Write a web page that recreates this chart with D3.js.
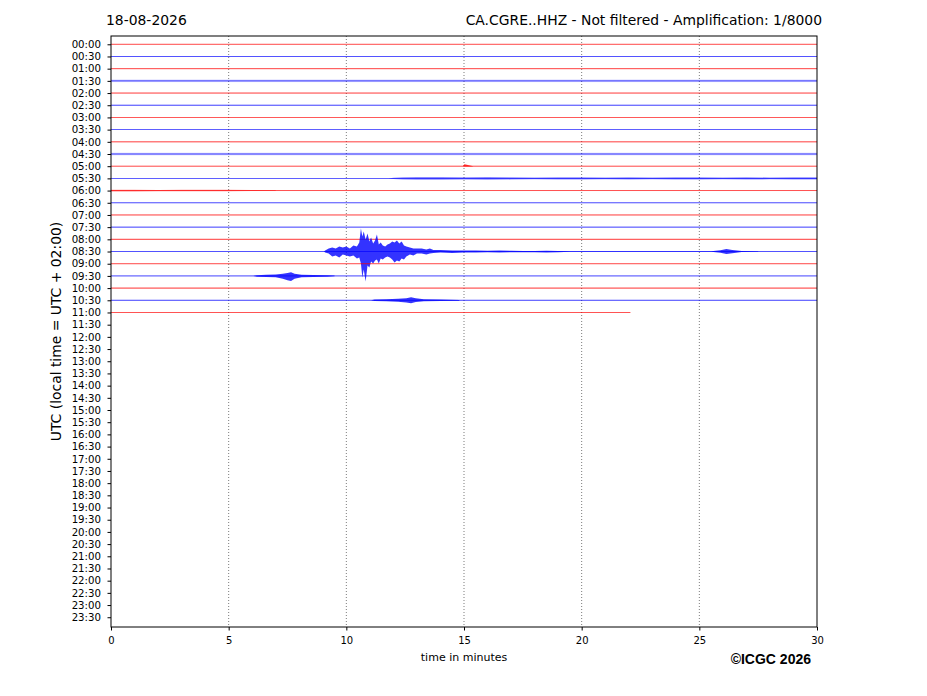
<!DOCTYPE html>
<html>
<head>
<meta charset="utf-8">
<script src="https://cdn.jsdelivr.net/npm/d3@7"></script>
<style>
  body { margin: 0; background: #fff; }
  text { font-family: "DejaVu Sans", sans-serif; }
</style>
</head>
<body>
<script>
// --- data ---
var dateLabel = "18-08-2026";
var stationTitle = "CA.CGRE..HHZ - Not filtered - Amplification: 1/8000";
var rowLabels = [];
for (var h = 0; h < 24; h++) {
  rowLabels.push(("0" + h).slice(-2) + ":00", ("0" + h).slice(-2) + ":30");
}
var xTicks = [0, 5, 10, 15, 20, 25, 30];
var gridMinutes = [5, 10, 15, 20, 25];

// rows that hold data (00:00 .. 11:00) and how far each one runs (minutes)
var traceRows = d3.range(0, 23);
var traceEnd = traceRows.map(function(r) { return r === 22 ? 22.07 : 30; });
// background noise half-width per row, amplitude units (10 = one row)
var rowNoise = [0.3, 0.3, 0.4, 1.0, 0.4, 0.4, 0.3, 0.3, 0.4, 1.0, 0.3, 0.3,
                0.4, 0.3, 0.4, 0.4, 0.5, 0.3, 0.3, 0.3, 0.5, 0.4, 0.3];

// events: [minute, amplitude up, amplitude down] (10 = one row)
var events = {
  10: [[14.95, 0, 0], [15.02, 1.6, 0.2], [15.12, 1.2, 0.2], [15.3, 0.3, 0.2], [15.4, 0, 0]],
  11: [[11.8, 0, 0], [12.0, 0.6, 0.6], [12.4, 0.9, 0.9], [13.0, 1.2, 1.2], [14.0, 1.1, 1.1],
       [15.0, 1.0, 1.0], [16.0, 1.2, 1.2], [17.0, 1.0, 1.0], [18.0, 0.8, 0.8], [19.0, 1.0, 1.0],
       [20.0, 1.0, 1.0], [21.0, 0.8, 0.8], [22.0, 0.9, 0.9], [23.0, 0.8, 0.8], [24.0, 0.9, 0.9],
       [25.0, 0.9, 0.9], [26.0, 0.8, 0.8], [27.0, 0.9, 0.9], [28.0, 0.8, 0.8], [29.0, 0.9, 0.9],
       [30.0, 1.0, 1.0]],
  12: [[0, 0.7, 0.7], [1.0, 0.7, 0.7], [2.0, 0.5, 0.5], [3.0, 0.6, 0.6], [4.0, 0.6, 0.6],
       [5.0, 0.6, 0.6], [6.0, 0.4, 0.4], [7.0, 0.3, 0.3]],
  17: [[9.05, 0, 0], [9.1, 0.8, 0.8], [9.25, 2.4, 1.6], [9.4, 3.3, 4.1], [9.55, 2.4, 3.3],
       [9.7, 4.1, 4.9], [9.85, 3.3, 2.4], [10.0, 4.1, 3.3], [10.15, 2.4, 4.1], [10.3, 4.9, 3.3],
       [10.45, 4.1, 5.7], [10.55, 7.4, 4.9], [10.62, 18.9, 9.8], [10.68, 12.3, 21.3],
       [10.74, 16.4, 14.8], [10.82, 9.8, 24.6], [10.9, 14.8, 11.5], [10.98, 8.2, 13.1],
       [11.05, 11.5, 8.2], [11.14, 6.6, 9.8], [11.22, 9.0, 7.4], [11.3, 13.9, 6.6],
       [11.38, 5.7, 9.8], [11.46, 7.4, 5.7], [11.55, 4.9, 6.6], [11.65, 4.1, 4.9],
       [11.75, 5.7, 4.1], [11.85, 6.6, 4.9], [11.95, 8.2, 6.6], [12.05, 7.4, 9.0],
       [12.15, 9.0, 7.4], [12.25, 6.6, 8.2], [12.35, 8.2, 5.7], [12.45, 4.9, 6.6],
       [12.55, 4.1, 4.1], [12.7, 3.3, 2.4], [12.85, 2.4, 3.3], [13.0, 2.4, 1.6],
       [13.2, 2.4, 1.6], [13.4, 1.6, 2.4], [13.55, 2.4, 1.6], [13.7, 1.2, 1.2],
       [14.0, 1.2, 0.8], [14.5, 0.8, 1.2], [15.0, 0.8, 0.8], [15.5, 0.8, 0.8],
       [16.0, 0.6, 0.6], [16.5, 0.8, 0.8], [17.0, 0.6, 0.6], [17.5, 0.5, 0.5],
       [18.0, 0.5, 0.5], [18.5, 0.7, 0.7], [19.0, 0.5, 0.5], [19.5, 0.2, 0.2],
       [25.5, 0.2, 0.2], [25.9, 1.0, 1.0], [26.15, 2.0, 2.0], [26.4, 1.2, 1.4],
       [26.8, 0.4, 0.4], [27.5, 0.2, 0.2]],
  19: [[6.05, 0, 0], [6.2, 0.6, 0.6], [6.6, 0.9, 0.9], [7.0, 1.2, 1.2], [7.3, 1.8, 2.4],
       [7.5, 2.4, 3.6], [7.65, 3.0, 4.1], [7.8, 1.8, 2.4], [8.1, 1.0, 1.2], [8.6, 0.8, 0.8],
       [9.2, 0.6, 0.6], [9.5, 0.3, 0.3]],
  21: [[11.05, 0, 0], [11.2, 0.6, 0.6], [11.7, 0.8, 0.8], [12.2, 1.2, 1.2], [12.55, 1.6, 1.8],
       [12.75, 2.4, 2.4], [12.95, 1.6, 1.4], [13.3, 0.8, 0.8], [14.0, 0.6, 0.6], [14.8, 0.3, 0.3]]
};

// --- layout ---
var W = 927, H = 696;
var mLeft = 111, mRight = 817, mTop = 36, mBottom = 627;
var svg = d3.select("body").append("svg").attr("width", W).attr("height", H);

var x = d3.scaleLinear().domain([0, 30]).range([mLeft, mRight]);
var y = d3.scaleLinear().domain([-0.68, 47.8]).range([mTop, mBottom]);
var rowStep = y(1) - y(0);
var amp = d3.scaleLinear().domain([0, 10]).range([0, rowStep]);
var colorOf = function(r) { return r % 2 === 0 ? "#ff0000" : "#0000ff"; };
// low-amplitude wave rows look like a faint thin wiggle
var eventOpacity = function(r) { return (r === 11 || r === 12) ? 0.45 : 0.8; };

// dotted vertical grid
svg.append("g").selectAll("line").data(gridMinutes).enter().append("line")
  .attr("x1", function(d) { return x(d); }).attr("x2", function(d) { return x(d); })
  .attr("y1", mTop).attr("y2", mBottom)
  .attr("stroke", "#444").attr("stroke-width", 0.7).attr("stroke-dasharray", "1,2");

var traceG = svg.append("g");
traceRows.forEach(function(r) {
  var c = colorOf(r), y0 = y(r), end = traceEnd[r];
  // noise band
  traceG.append("rect")
    .attr("x", x(0)).attr("width", x(end) - x(0))
    .attr("y", y0 - amp(rowNoise[r])).attr("height", 2 * amp(rowNoise[r]))
    .attr("fill", c).attr("opacity", 0.22);
  traceG.append("line")
    .attr("x1", x(0)).attr("x2", x(end)).attr("y1", y0).attr("y2", y0)
    .attr("stroke", c).attr("stroke-width", 0.7).attr("opacity", 0.9);
  if (events[r]) {
    var area = d3.area()
      .x(function(d) { return x(d[0]); })
      .y0(function(d) { return y0 - amp(d[1]); })
      .y1(function(d) { return y0 + amp(d[2]); })
      .curve(d3.curveLinear);
    traceG.append("path").datum(events[r])
      .attr("d", area)
      .attr("fill", c).attr("opacity", eventOpacity(r));
  }
});

// frame
svg.append("rect").attr("x", mLeft).attr("y", mTop)
  .attr("width", mRight - mLeft).attr("height", mBottom - mTop)
  .attr("fill", "none").attr("stroke", "#000").attr("stroke-width", 1);

// y axis
var yAxis = d3.axisLeft(y).tickValues(d3.range(0, 48))
  .tickFormat(function(i) { return rowLabels[i]; }).tickSize(3.5).tickPadding(6.5);
var yg = svg.append("g").attr("transform", "translate(" + mLeft + ",0)").call(yAxis);
yg.select(".domain").remove();
yg.selectAll("text").attr("font-size", 10.2).attr("fill", "#000")
  .style("font-family", "DejaVu Sans");

// x axis
var xAxis = d3.axisBottom(x).tickValues(xTicks).tickSize(3.5).tickPadding(6);
var xg = svg.append("g").attr("transform", "translate(0," + mBottom + ")").call(xAxis);
xg.select(".domain").remove();
xg.selectAll("text").attr("font-size", 10).attr("fill", "#000")
  .style("font-family", "DejaVu Sans");

// titles / labels
svg.append("text").attr("x", 106).attr("y", 25).attr("font-size", 13.9).text(dateLabel);
svg.append("text").attr("x", 822).attr("y", 25).attr("font-size", 13.9)
  .attr("text-anchor", "end").text(stationTitle);
svg.append("text").attr("x", (mLeft + mRight) / 2).attr("y", 661).attr("font-size", 11)
  .attr("text-anchor", "middle").text("time in minutes");
svg.append("text").attr("transform", "translate(61," + (mTop + mBottom) / 2 + ") rotate(-90)")
  .attr("font-size", 13.9).attr("text-anchor", "middle").text("UTC (local time = UTC + 02:00)");
svg.append("text").attr("x", 811).attr("y", 664).attr("text-anchor", "end")
  .attr("font-size", 14).attr("font-weight", "bold")
  .style("font-family", "Liberation Sans, Arial, sans-serif").text("\u00a9ICGC 2026");
</script>
</body>
</html>
